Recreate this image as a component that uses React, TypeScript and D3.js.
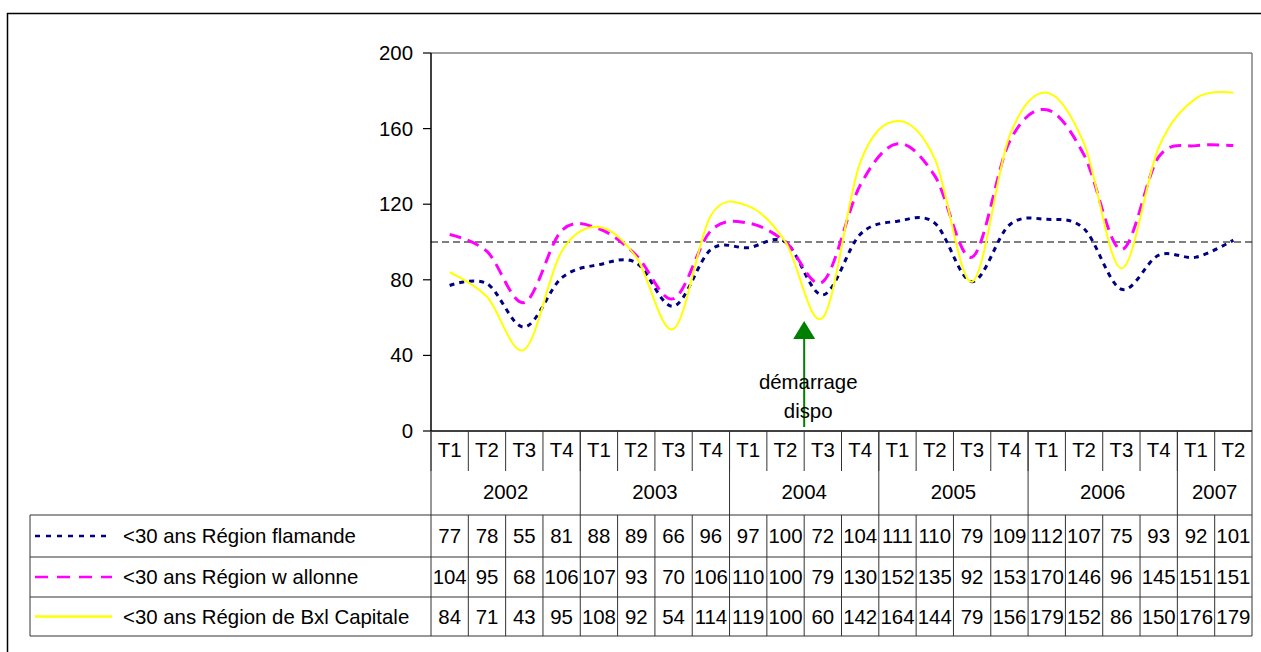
import React from "react";
import * as d3 from "d3";

const quarters = ["T1","T2","T3","T4","T1","T2","T3","T4","T1","T2","T3","T4","T1","T2","T3","T4","T1","T2","T3","T4","T1","T2"];
const years = ["2002","2003","2004","2005","2006","2007"];
const yearSpans = [4,4,4,4,4,2];
const flamande = [77,78,55,81,88,89,66,96,97,100,72,104,111,110,79,109,112,107,75,93,92,101];
const wallonne = [104,95,68,106,107,93,70,106,110,100,79,130,152,135,92,153,170,146,96,145,151,151];
const bxl = [84,71,43,95,108,92,54,114,119,100,60,142,164,144,79,156,179,152,86,150,176,179];
const seriesNames = ["<30 ans Région flamande","<30 ans Région w allonne","<30 ans Région de Bxl Capitale"];
const yTicks = [0,40,80,120,160,200];
const refValue = 100;
const annotationLines = ["démarrage","dispo"];
const annotationIndex = 10; // boundary between T2 and T3 2004

const FONT = "'Liberation Sans', Arial, sans-serif";

export default function App() {
  const W = 1261, H = 652;
  const left = 431, right = 1252, top = 53, bottom = 431;
  const idx = quarters.map((_, i) => i);
  const x = d3.scaleBand<number>().domain(idx).range([left, right]).paddingInner(0).paddingOuter(0);
  const bw = x.bandwidth();
  const y = d3.scaleLinear().domain([0, 200]).range([bottom, top]);
  const cx = (i: number) => (x(i) as number) + bw / 2;

  const line = d3.line<number>().x((_, i) => cx(i)).y((d) => y(d)).curve(d3.curveCatmullRom.alpha(0));

  const styles = [
    { data: flamande, color: "#000080", width: 3, dash: "5,5" },
    { data: wallonne, color: "#FF00FF", width: 3, dash: "12,7" },
    { data: bxl, color: "#FFFF00", width: 2, dash: "" },
  ];

  const rowTops = [515, 557, 597, 636];
  const tRowY = 450, yearRowY = 492;
  const fs = 20.4;

  const yearBounds: number[] = [0];
  let acc = 0;
  yearSpans.forEach((s) => { acc += s; yearBounds.push(acc); });
  const bx = (k: number) => (k >= quarters.length ? right : (x(k) as number));

  const arrowX = bx(annotationIndex);

  return (
    <svg width={W} height={H} style={{ position: "absolute", left: 0, top: 0, background: "#fff" }} fontFamily={FONT}>
      <rect x={0} y={0} width={W} height={H} fill="#fff" />
      <rect x={7.5} y={13.5} width={1280} height={680} fill="none" stroke="#000" strokeWidth={1.5} />

      {/* plot frame */}
      <line x1={left} x2={right} y1={top} y2={top} stroke="#808080" strokeWidth={1.5} />
      <line x1={right} x2={right} y1={top} y2={bottom} stroke="#808080" strokeWidth={1.5} />
      <line x1={left} x2={left} y1={top} y2={bottom} stroke="#000" strokeWidth={1.5} />

      {/* y ticks */}
      {yTicks.map((t) => (
        <g key={t}>
          <line x1={left - 8} x2={left} y1={y(t)} y2={y(t)} stroke="#000" strokeWidth={1.2} />
          <text x={left - 18} y={y(t)} textAnchor="end" dominantBaseline="central" fontSize={fs}>{t}</text>
        </g>
      ))}

      {/* reference line */}
      <line x1={left} x2={right} y1={y(refValue)} y2={y(refValue)} stroke="#000" strokeWidth={1.2} strokeDasharray="7,4" />

      {/* series */}
      {styles.map((s, k) => (
        <path key={k} d={line(s.data) || ""} fill="none" stroke={s.color} strokeWidth={s.width} strokeDasharray={s.dash || undefined} />
      ))}

      {/* annotation */}
      <line x1={arrowX} x2={arrowX} y1={427} y2={336} stroke="#008000" strokeWidth={2} />
      <path d={`M${arrowX},321 L${arrowX - 11},339 L${arrowX + 11},339 Z`} fill="#008000" />
      {annotationLines.map((t, i) => (
        <text key={t} x={arrowX + 4} y={382 + i * 29} textAnchor="middle" dominantBaseline="central" fontSize={fs}>{t}</text>
      ))}

      {/* x axis line */}
      <line x1={left} x2={right} y1={bottom} y2={bottom} stroke="#000" strokeWidth={1.5} />

      {/* header: quarter row */}
      {quarters.map((q, i) => (
        <text key={"q" + i} x={cx(i)} y={tRowY} textAnchor="middle" dominantBaseline="central" fontSize={fs}>{q}</text>
      ))}
      {idx.map((i) => (
        <line key={"qd" + i} x1={bx(i)} x2={bx(i)} y1={bottom} y2={471} stroke="#333" strokeWidth={1} />
      ))}
      {yearBounds.map((b, i) => (
        <line key={"yb" + i} x1={bx(b)} x2={bx(b)} y1={bottom} y2={rowTops[0]} stroke="#333" strokeWidth={1} />
      ))}
      {years.map((yr, i) => {
        const x0 = bx(yearBounds[i]);
        const x1 = bx(yearBounds[i + 1]);
        return (
          <text key={yr} x={(x0 + x1) / 2} y={yearRowY} textAnchor="middle" dominantBaseline="central" fontSize={fs}>{yr}</text>
        );
      })}

      {/* data table */}
      {rowTops.map((ry, i) => (
        <line key={"rl" + i} x1={30} x2={right} y1={ry} y2={ry} stroke="#333" strokeWidth={1} />
      ))}
      <line x1={30} x2={30} y1={rowTops[0]} y2={rowTops[3]} stroke="#333" strokeWidth={1} />
      {idx.concat([quarters.length]).map((i) => (
        <line key={"cv" + i} x1={bx(i)} x2={bx(i)} y1={rowTops[0]} y2={rowTops[3]} stroke="#333" strokeWidth={1} />
      ))}
      {styles.map((s, r) => {
        const ymid = (rowTops[r] + rowTops[r + 1]) / 2;
        return (
          <g key={"row" + r}>
            <line x1={35} x2={112} y1={ymid} y2={ymid} stroke={s.color} strokeWidth={2.5} strokeDasharray={r === 0 ? "5,6" : r === 1 ? "13,9" : undefined} />
            <text x={123} y={ymid} dominantBaseline="central" fontSize={fs}>{seriesNames[r]}</text>
            {s.data.map((v, i) => (
              <text key={i} x={cx(i)} y={ymid} textAnchor="middle" dominantBaseline="central" fontSize={fs}>{v}</text>
            ))}
          </g>
        );
      })}
    </svg>
  );
}
